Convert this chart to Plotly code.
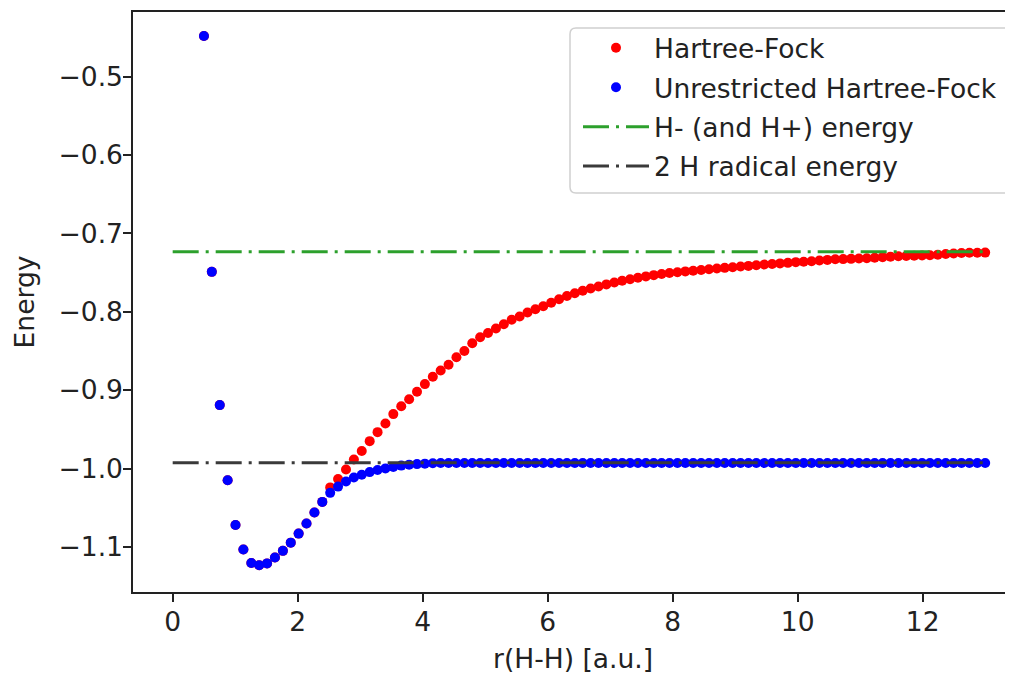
import plotly.graph_objects as go

# bond distance grid r(H-H) [a.u.]
r = [0.500, 0.626, 0.753, 0.879, 1.005, 1.131, 1.258, 1.384, 1.510, 1.636,
     1.763, 1.889, 2.015, 2.141, 2.268, 2.394, 2.520, 2.646, 2.773, 2.899,
     3.025, 3.152, 3.278, 3.404, 3.530, 3.657, 3.783, 3.909, 4.035, 4.162,
     4.288, 4.414, 4.540, 4.667, 4.793, 4.919, 5.045, 5.172, 5.298, 5.424,
     5.551, 5.677, 5.803, 5.929, 6.056, 6.182, 6.308, 6.434, 6.561, 6.687,
     6.813, 6.939, 7.066, 7.192, 7.318, 7.444, 7.571, 7.697, 7.823, 7.949,
     8.076, 8.202, 8.328, 8.455, 8.581, 8.707, 8.833, 8.960, 9.086, 9.212,
     9.338, 9.465, 9.591, 9.717, 9.843, 9.970, 10.096, 10.222, 10.348, 10.475,
     10.601, 10.727, 10.854, 10.980, 11.106, 11.232, 11.359, 11.485, 11.611, 11.737,
     11.864, 11.990, 12.116, 12.242, 12.369, 12.495, 12.621, 12.747, 12.874, 13.000]

# restricted Hartree-Fock energies
e_hf = [-0.448, -0.749, -0.919, -1.015, -1.072, -1.1033, -1.1204, -1.1234, -1.1210, -1.1135,
        -1.1050, -1.0945, -1.0830, -1.0700, -1.0560, -1.0425, -1.0240, -1.0133, -1.0012, -0.9884,
        -0.9775, -0.9650, -0.9535, -0.9425, -0.9305, -0.9205, -0.9115, -0.9020, -0.8922, -0.8828,
        -0.8748, -0.8675, -0.8580, -0.8500, -0.8400, -0.8325, -0.8270, -0.8212, -0.8158, -0.8102,
        -0.8060, -0.8008, -0.7968, -0.7928, -0.7885, -0.7840, -0.7798, -0.7762, -0.7730, -0.7702,
        -0.7676, -0.7650, -0.7626, -0.7604, -0.7584, -0.7565, -0.7548, -0.7532, -0.7518, -0.7505,
        -0.7494, -0.7484, -0.7475, -0.7466, -0.7457, -0.7448, -0.7439, -0.7430, -0.7422, -0.7414,
        -0.7406, -0.7397, -0.7390, -0.7382, -0.7375, -0.7366, -0.7360, -0.7354, -0.7345, -0.7337,
        -0.7330, -0.7327, -0.7324, -0.7320, -0.7317, -0.7310, -0.7302, -0.7296, -0.7290, -0.7287,
        -0.7284, -0.7280, -0.7277, -0.7270, -0.7262, -0.7255, -0.7250, -0.7247, -0.7246, -0.7244]

# unrestricted Hartree-Fock energies
e_uhf = [-0.448, -0.749, -0.919, -1.015, -1.072, -1.1033, -1.1204, -1.1234, -1.1210, -1.1135,
         -1.1050, -1.0945, -1.0830, -1.0700, -1.0560, -1.0425, -1.0310, -1.0230, -1.0165, -1.0115,
         -1.0078, -1.0045, -1.0018, -0.9998, -0.9980, -0.9962, -0.9950, -0.9943, -0.9937, -0.9932,
         -0.9928, -0.9928, -0.9928, -0.9928, -0.9928, -0.9928, -0.9928, -0.9928, -0.9928, -0.9928,
         -0.9928, -0.9928, -0.9928, -0.9928, -0.9928, -0.9928, -0.9928, -0.9928, -0.9928, -0.9928,
         -0.9928, -0.9928, -0.9928, -0.9928, -0.9928, -0.9928, -0.9928, -0.9928, -0.9928, -0.9928,
         -0.9928, -0.9928, -0.9928, -0.9928, -0.9928, -0.9928, -0.9928, -0.9928, -0.9928, -0.9928,
         -0.9928, -0.9928, -0.9928, -0.9928, -0.9928, -0.9928, -0.9928, -0.9928, -0.9928, -0.9928,
         -0.9928, -0.9928, -0.9928, -0.9928, -0.9928, -0.9928, -0.9928, -0.9928, -0.9928, -0.9928,
         -0.9928, -0.9928, -0.9928, -0.9928, -0.9928, -0.9928, -0.9928, -0.9928, -0.9928, -0.9928]

# reference energies (horizontal lines)
h_ion_energy = -0.7234
h_radical_energy = -0.9925
ref_line_x = [0.0, 13.0]

x_ticks = [0, 2, 4, 6, 8, 10, 12]
y_ticks = [-1.1, -1.0, -0.9, -0.8, -0.7, -0.6, -0.5]

FONT = "DejaVu Sans"
FS = 26.5
TXT = "#222222"

fig = go.Figure()
fig.add_trace(go.Scatter(x=r, y=e_hf, mode="markers", name="Hartree-Fock",
                         legendgroup="a",
                         marker=dict(color="#ff0000", size=10, line=dict(width=0))))
fig.add_trace(go.Scatter(x=r, y=e_uhf, mode="markers", name="Unrestricted Hartree-Fock",
                         legendgroup="b",
                         marker=dict(color="#0000ff", size=10, line=dict(width=0))))
fig.add_trace(go.Scatter(x=ref_line_x, y=[h_ion_energy, h_ion_energy], mode="lines",
                         name="H- (and H+) energy", legendgroup="c",
                         line=dict(color="#2ca02c", width=3, dash="26px,7px,3px,7px")))
fig.add_trace(go.Scatter(x=ref_line_x, y=[h_radical_energy, h_radical_energy], mode="lines",
                         name="2 H radical energy", legendgroup="d",
                         line=dict(color="#3a3a3a", width=3, dash="26px,7px,3px,7px")))

# the page body adds an 8px offset; size the figure so it ends at the window edge
OFF = 8
W, H = 1013 - OFF, 675 - OFF
L, R, T, B = 133 - OFF, 0, 12 - OFF, 83
pw, ph = W - L - R, H - T - B

def px_x(p):
    return (p - OFF - L) / pw

def px_y(p):
    return (H - B - (p - OFF)) / ph

# legend frame (matplotlib style, rounded corners)
x0, x1, y0, y1, rad = 570, 1030, 28, 193, 6
path = (f"M{px_x(x0+rad)},{px_y(y0)} L{px_x(x1)},{px_y(y0)} L{px_x(x1)},{px_y(y1)} "
        f"L{px_x(x0+rad)},{px_y(y1)} Q{px_x(x0)},{px_y(y1)} {px_x(x0)},{px_y(y1-rad)} "
        f"L{px_x(x0)},{px_y(y0+rad)} Q{px_x(x0)},{px_y(y0)} {px_x(x0+rad)},{px_y(y0)} Z")

fig.update_layout(
    width=W, height=H,
    margin=dict(l=L, r=R, t=T, b=B, pad=0, autoexpand=False),
    paper_bgcolor="white", plot_bgcolor="white",
    font=dict(family=FONT, size=FS, color=TXT),
    shapes=[dict(type="path", xref="paper", yref="paper", path=path,
                 line=dict(color="#d0d0d0", width=1.5), fillcolor="rgba(255,255,255,0.85)",
                 layer="above")],
    legend=dict(x=px_x(578), y=px_y(24), xanchor="left", yanchor="top",
                bgcolor="rgba(0,0,0,0)", borderwidth=0,
                font=dict(family=FONT, size=FS, color=TXT),
                traceorder="grouped", tracegroupgap=2, itemwidth=66),
    xaxis=dict(range=[-0.635, 13.445], tickvals=x_ticks, ticks="outside", ticklen=8,
               tickwidth=1.5, tickcolor=TXT, showline=True, linecolor=TXT,
               linewidth=1.5, mirror=True, showgrid=False, zeroline=False, automargin=False,
               ticklabelstandoff=-3,
               title=dict(text="r(H-H) [a.u.]", standoff=14,
                          font=dict(family=FONT, size=FS, color=TXT))),
    yaxis=dict(range=[-1.1575, -0.4174], tickvals=y_ticks, tickformat=".1f",
               ticks="outside", ticklen=8, tickwidth=1.5, tickcolor=TXT,
               showline=True, linecolor=TXT, linewidth=1.5, mirror=False,
               showgrid=False, zeroline=False, automargin=False,
               ticklabelstandoff=-5,
               title=dict(text="Energy", standoff=16,
                          font=dict(family=FONT, size=FS, color=TXT))),
)

fig.write_html("out.html")
